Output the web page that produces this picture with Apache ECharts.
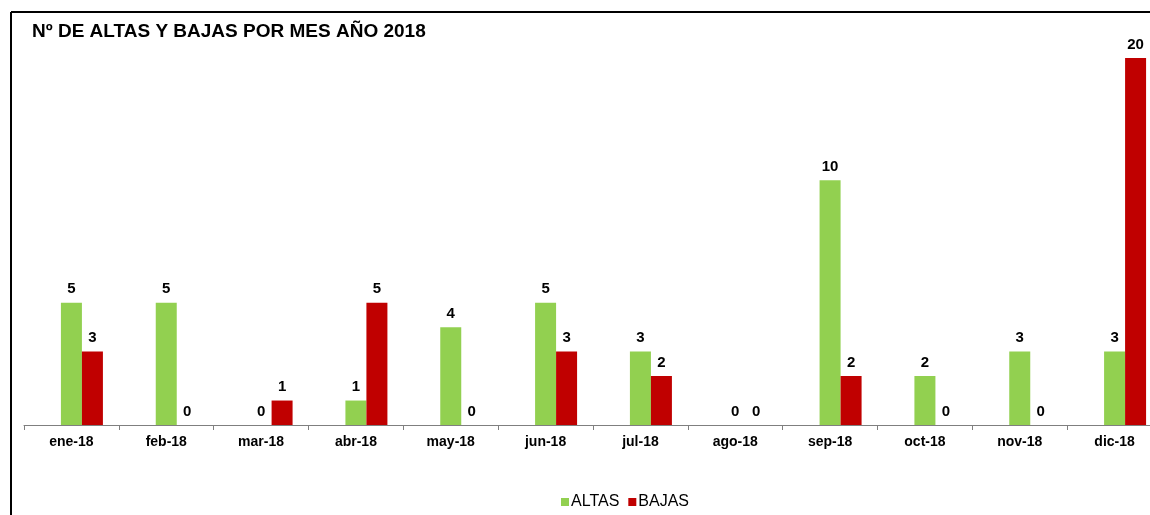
<!DOCTYPE html>
<html>
<head>
<meta charset="utf-8">
<script src="https://cdn.jsdelivr.net/npm/echarts@6/dist/echarts.min.js"></script>
<style>
  html, body { margin: 0; padding: 0; background: #fff; overflow: hidden; }
  #chart { width: 1162px; height: 515px; }
</style>
</head>
<body>
<div id="chart"></div>
<script>
// datos del gráfico
const meses = ['ene-18', 'feb-18', 'mar-18', 'abr-18', 'may-18', 'jun-18',
               'jul-18', 'ago-18', 'sep-18', 'oct-18', 'nov-18', 'dic-18'];
const altas = [5, 5, 0, 1, 4, 5, 3, 0, 10, 2, 3, 3];
const bajas = [3, 0, 1, 5, 0, 3, 2, 0, 2, 0, 0, 20];
// serie vacía para desplazar el par de barras a la derecha (como en Excel)
const hueco = meses.map(() => 0);

const chart = echarts.init(document.getElementById('chart'));

const etiqueta = {
    show: true,
    position: 'top',
    distance: 6,
    color: '#000',
    fontFamily: 'Liberation Sans, Arial, sans-serif',
    fontWeight: 'bold',
    fontSize: 15
};

chart.setOption({
    backgroundColor: '#fff',
    animation: false,
    title: {
        text: 'Nº DE ALTAS Y BAJAS POR MES AÑO 2018',
        left: 27,
        top: 17,
        textStyle: {
            fontFamily: 'Liberation Sans, Arial, sans-serif',
            fontWeight: 'bold',
            fontSize: 19,
            color: '#000'
        }
    },
    legend: {
        left: 556,
        top: 489,
        itemWidth: 8,
        itemHeight: 8,
        itemGap: 9,
        icon: 'rect',
        textStyle: {
            fontFamily: 'Liberation Sans, Arial, sans-serif',
            fontSize: 16,
            color: '#000',
            padding: [0, 0, 0, -3]
        },
        data: ['ALTAS', 'BAJAS']
    },
    grid: { left: 24, right: 0, top: 58, bottom: 90 },
    xAxis: {
        type: 'category',
        data: meses,
        axisLine: { lineStyle: { color: '#7f7f7f', width: 1 } },
        axisTick: { show: true, length: 5, lineStyle: { color: '#7f7f7f' } },
        axisLabel: {
            margin: 10,
            color: '#000',
            fontFamily: 'Liberation Sans, Arial, sans-serif',
            fontWeight: 'bold',
            fontSize: 14
        }
    },
    yAxis: {
        type: 'value',
        min: 0,
        max: 15,
        show: false,
        splitLine: { show: false }
    },
    graphic: [
        { type: 'line', shape: { x1: 11, y1: 12, x2: 1162, y2: 12 }, style: { stroke: '#000', lineWidth: 2 } },
        { type: 'line', shape: { x1: 11, y1: 12, x2: 11, y2: 515 }, style: { stroke: '#000', lineWidth: 2 } }
    ],
    series: [
        {
            name: 'hueco',
            type: 'bar',
            data: hueco,
            barWidth: 21,
            barGap: '0%',
            silent: true,
            itemStyle: { color: 'transparent' },
            label: { show: false }
        },
        {
            name: 'ALTAS',
            type: 'bar',
            data: altas,
            barWidth: 21,
            barGap: '0%',
            itemStyle: { color: '#92D050' },
            label: etiqueta
        },
        {
            name: 'BAJAS',
            type: 'bar',
            data: bajas,
            barWidth: 21,
            barGap: '0%',
            itemStyle: { color: '#C00000' },
            label: etiqueta
        }
    ]
});
</script>
</body>
</html>
